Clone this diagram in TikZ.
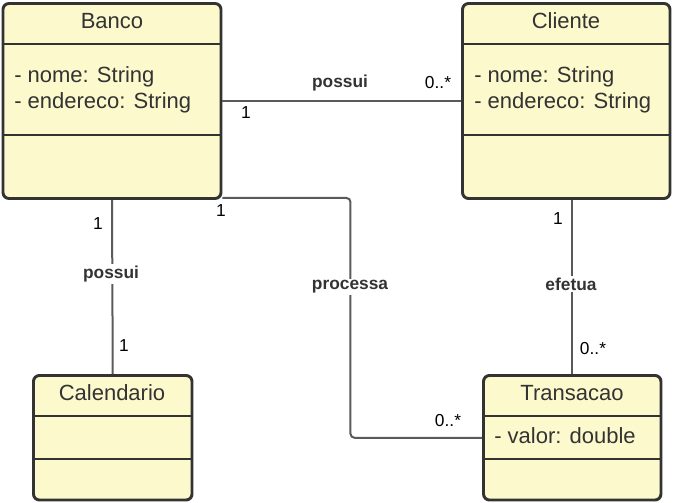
\documentclass[tikz,border=0pt]{standalone}
\usepackage{fontspec}
\setmainfont{Liberation Sans}
\usetikzlibrary{positioning, calc}
\definecolor{cdfill}{HTML}{FCF9CC}
\definecolor{cdline}{HTML}{333333}
\definecolor{cdlink}{HTML}{5A5A5A}
\definecolor{cdtext}{HTML}{333333}
\tikzset{
  cd box/.style={draw=cdline, fill=cdfill, rounded corners=4.5pt,
    line width=2.2pt, inner sep=0pt},
  cd div/.style={draw=cdline, line width=2.2pt},
  cd title/.style={text=cdtext, font=\fontsize{16.5}{19.5}\selectfont, inner sep=0pt},
  cd attr/.style={text=cdtext, font=\fontsize{16.5}{19.5}\selectfont, align=left,
    inner sep=0pt, anchor=north west},
  cd assoc/.style={draw=cdlink, line width=1.5pt},
  cd mult/.style={text=black, font=\fontsize{13}{15}\selectfont, inner sep=1pt},
  cd verb/.style={text=cdtext, font=\bfseries\fontsize{13}{15}\selectfont,
    inner sep=1.5pt},
}
\begin{document}
\begin{tikzpicture}[x=0.75pt, y=-0.75pt]
 \useasboundingbox (0,0) rectangle (683,503);
 % classes
 \node[cd box, minimum width=163.5pt, minimum height=146.25pt] (banco) at (112,101) {};
 \node[cd box, minimum width=155.6pt, minimum height=146.25pt] (cliente) at (566.25,101) {};
 \node[cd box, minimum width=118.9pt, minimum height=93.4pt] (calendario) at (112.75,437.75) {};
 \node[cd box, minimum width=133.1pt, minimum height=93.4pt] (transacao) at (572.25,437.75) {};
 \foreach \c/\a/\b in {banco/44/135, cliente/44/135, calendario/416/459, transacao/416/459} {
   \draw[cd div] (\c.west |- 0,\a) -- (\c.east |- 0,\a);
   \draw[cd div] (\c.west |- 0,\b) -- (\c.east |- 0,\b);
 }
 \node[cd title] (banconame) at (112,21) {Banco};
 \node[cd title] (clientename) at (566,21) {Cliente};
 \node[cd title] (calendarioname) at (112,393) {Calendario};
 \node[cd title] (transacaoname) at (572,393) {Transacao};
 \node[cd attr] (bancoattr) at (14,66) {- nome: String\\- endereco: String};
 \node[cd attr] (clienteattr) at (474,66) {- nome: String\\- endereco: String};
 \node[cd attr] (transacaoattr) at (494,427) {- valor: double};
 % associations
 \draw[cd assoc] (banco.east) -- (cliente.west);
 \draw[cd assoc] (banco.south) -- (calendario.north);
 \draw[cd assoc] (cliente.south -| transacao.north) -- (transacao.north);
 \draw[cd assoc, rounded corners=3pt] ([yshift=1.5pt]banco.south east) -- ++(128,0)
   |- (transacao.west);
 % labels
 \node[cd verb] (possuitop) at (340,83) {possui};
 \node[cd mult] at (438,83) {0..*};
 \node[cd mult] at (246,113) {1};
 \node[cd mult] at (98,224) {1};
 \node[cd verb, fill=white] (possuileft) at (111,274) {possui};
 \node[cd mult] at (124,346) {1};
 \node[cd mult] at (221,211) {1};
 \node[cd verb, fill=white] (processa) at (350,287) {processa};
 \node[cd mult] at (448,421) {0..*};
 \node[cd mult] at (558,219) {1};
 \node[cd verb, fill=white] (efetua) at (571,284) {efetua};
 \node[cd mult] at (593,349) {0..*};
\end{tikzpicture}
\end{document}
